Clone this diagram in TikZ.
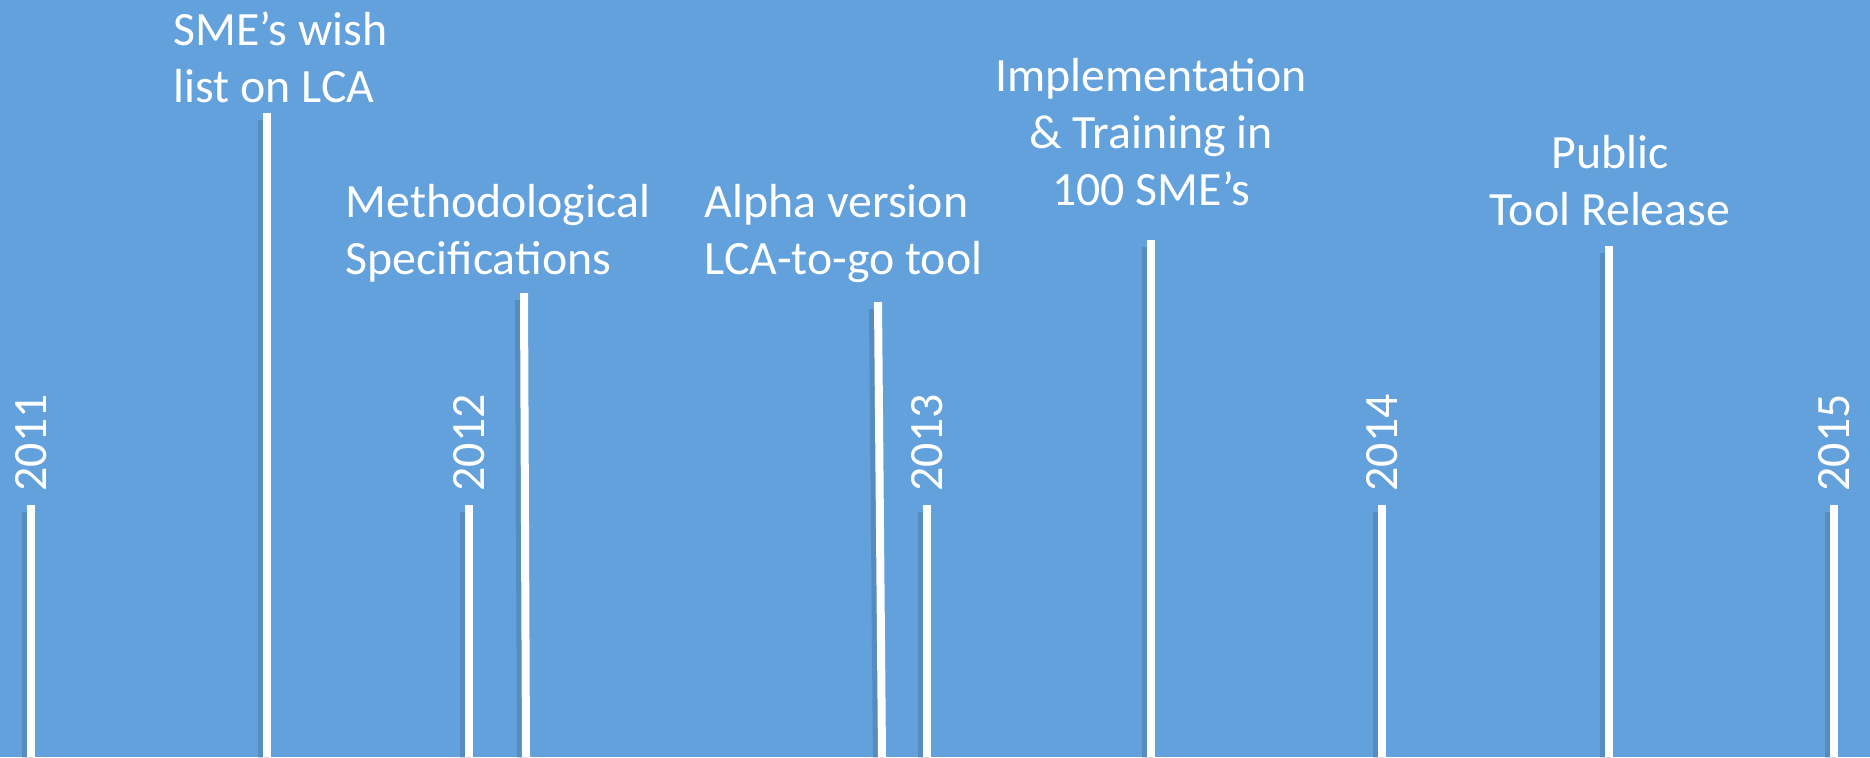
\documentclass[tikz,border=0pt]{standalone}
\usepackage{fontspec}
\setmainfont{Carlito}
\definecolor{sky}{RGB}{99,161,220}
\tikzset{stick/.style={draw=white, line width=0.8mm},
    stickshade/.style={draw=black!70!sky, opacity=0.18, line width=1.1mm},
    event/.style={text=white, inner sep=0pt, font=\fontsize{13.6}{16.2}\selectfont},
    yearlabel/.style={text=white, inner sep=0pt, rotate=90, anchor=west,
        font=\fontsize{13.6}{16.2}\selectfont}}

\begin{document}
\begin{tikzpicture}[x=0.01cm, y=-0.01cm]
    \fill[sky] (0,0) rectangle (1870,757);
    \useasboundingbox (0,0) rectangle (1870,757);
    % years
    \foreach \yr/\xx in {2011/31, 2012/469, 2013/927, 2014/1382, 2015/1834} {
        \coordinate (top\yr) at (\xx,505);
        \coordinate (foot\yr) at (\xx,757);
        \draw[stickshade] ([xshift=-1,yshift=-2]foot\yr) -- ([xshift=-1,yshift=-2]top\yr);
        \draw[stick] (foot\yr) -- (top\yr);
        \node[yearlabel] (lbl\yr) at (\xx,492) {\yr};
    }
    % milestones (base = last line)
    \node[event, anchor=base west, align=left] (wish) at (173,102) {SME’s wish\\list on LCA};
    \node[event, anchor=base west, align=left] (spec) at (345,274) {Methodological\\Specifications};
    \node[event, anchor=base west, align=left] (alpha) at (704,274) {Alpha version\\LCA-to-go tool};
    \node[event, anchor=base, align=center] (impl) at (1151,205) {Implementation\\\& Training in\\100 SME’s};
    \node[event, anchor=base, align=center] (release) at (1610,225) {Public\\Tool Release};
    \foreach \ev/\xa/\ya/\xb in {wish/267/113/267, spec/524/293/526, alpha/878/302/882,
        impl/1151/240/1151, release/1609/246/1609} {
        \coordinate (\ev top) at (\xa,\ya);
        \coordinate (\ev foot) at (\xb,757);
        \draw[stickshade] ([xshift=-1,yshift=-2]\ev foot) -- ([xshift=-1,yshift=-2]\ev top);
        \draw[stick] (\ev foot) -- (\ev top);
    }
\end{tikzpicture}
\end{document}
